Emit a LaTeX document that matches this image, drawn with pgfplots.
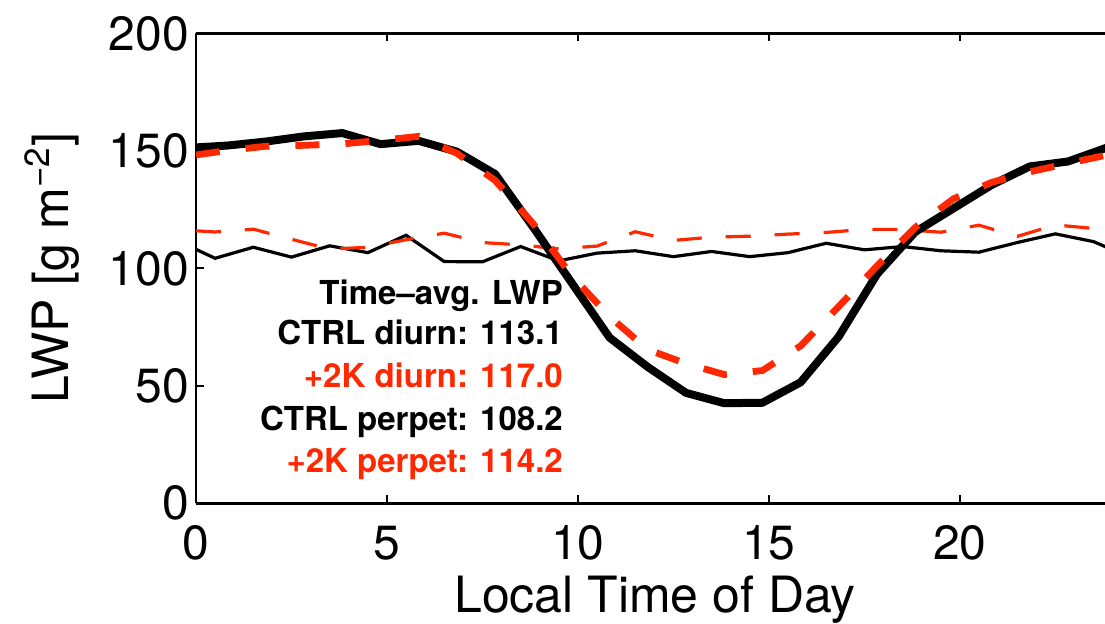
\documentclass[border=0pt]{standalone}
\usepackage{pgfplots}
\pgfplotsset{compat=1.18}
\usepackage{pgfplotstable}
\usepackage{fontspec}
\setmainfont{TeX Gyre Heros}
\definecolor{myred}{RGB}{255,40,0}

\pgfplotstableread{
x y
0 108.1
0.5 104.3
1.5 109.0
2.5 104.8
3.5 109.6
4.5 106.7
5.5 114.1
6.5 102.9
7.5 102.8
8.5 109.3
9.5 103.2
10.5 106.5
11.5 107.5
12.5 105.0
13.5 107.2
14.5 105.0
15.5 106.7
16.5 110.7
17.5 107.9
18.5 109.3
19.5 107.5
20.5 106.9
21.5 111.0
22.5 114.7
23.5 111.4
24 107.9
}\ctrlperp

\pgfplotstableread{
x y
0 116.0
0.5 115.5
1.5 116.7
2.5 112.4
3.5 108.2
4.5 109.0
5.5 112.2
6.5 115.0
7.5 111.0
8.5 110.0
9.5 108.3
10.5 109.5
11.5 115.6
12.5 111.9
13.5 113.3
14.5 113.7
15.5 114.6
16.5 115.3
17.5 116.6
18.5 116.6
19.5 115.4
20.5 118.4
21.5 113.6
22.5 118.5
23.5 117.0
24 116.2
}\warmperp

\pgfplotstableread{
x y
0 151.5
0.83 152.3
1.83 154.0
2.83 156.2
3.83 157.6
4.83 152.9
5.83 154.3
6.83 149.7
7.83 140.2
8.83 117.5
9.83 94.0
10.83 70.5
11.83 58.0
12.83 47.0
13.83 42.6
14.83 42.8
15.83 51.5
16.83 71.0
17.83 97.5
18.83 115.5
19.83 125.5
20.83 135.5
21.83 143.4
22.83 145.5
23.83 151.3
24 151.5
}\ctrldiurn

\pgfplotstableread{
x y
0 148.3
0.83 150.2
1.83 152.0
2.83 152.4
3.83 153.0
4.83 154.5
5.83 156.2
6.83 149.0
7.83 137.5
8.83 119.0
9.83 97.0
10.83 79.5
11.83 65.4
12.83 59.5
13.83 54.8
14.83 56.5
15.83 67.0
16.83 83.8
17.83 101.0
18.83 117.4
19.83 129.6
20.83 136.6
21.83 141.1
22.83 144.7
23.83 148.2
24 148.3
}\warmdiurn

\begin{document}
\begin{tikzpicture}
\useasboundingbox (-98pt,-60.35pt) rectangle (454.5pt,251.65pt);
\begin{axis}[
  at={(0pt,0pt)}, anchor=south west,
  scale only axis, width=454.5pt, height=234.9pt,
  xmin=0, xmax=23.8, ymin=0, ymax=200,
  axis x line*=box, axis y line*=left,
  axis line style={line width=1.3pt, black},
  xtick={0,5,10,15,20}, ytick={0,50,100,150,200},
  tick align=inside, major tick length=4pt,
  tick style={line width=0.9pt, black},
  /pgf/number format/assume math mode=true,
  ticklabel style={font=\fontsize{24}{28}\selectfont},
  xticklabel style={anchor=base, yshift=-28.3pt},
  label style={font=\fontsize{25}{30}\selectfont},
  xlabel={Local Time of Day},
  ylabel={LWP [g m\textsuperscript{−2}]},
  xlabel style={at={(axis description cs:0.505,-0.2316)}, anchor=base},
  ylabel style={at={(axis description cs:-0.1408,0.5)}, anchor=base, rotate=0},
]
\addplot[black, line width=1.6pt] table {\ctrlperp};
\addplot[myred, line width=1.6pt, dash pattern=on 12.5pt off 12pt] table {\warmperp};
\addplot[black, line width=4pt, line join=round] table {\ctrldiurn};
\addplot[myred, line width=3.4pt, dash pattern=on 12pt off 13pt] table {\warmdiurn};
\begin{scope}[every node/.style={anchor=base east, inner sep=0pt, font=\fontsize{16.5}{20}\selectfont\bfseries}]
\node[black] at (axis cs:9.615,84.5) {Time--avg. LWP};
\node[black] at (axis cs:9.615,67.4) {CTRL diurn: 113.1};
\node[myred] at (axis cs:9.615,49.1) {+2K diurn: 117.0};
\node[black] at (axis cs:9.615,31.2) {CTRL perpet: 108.2};
\node[myred] at (axis cs:9.615,12.9) {+2K perpet: 114.2};
\end{scope}
\end{axis}
\end{tikzpicture}
\end{document}
